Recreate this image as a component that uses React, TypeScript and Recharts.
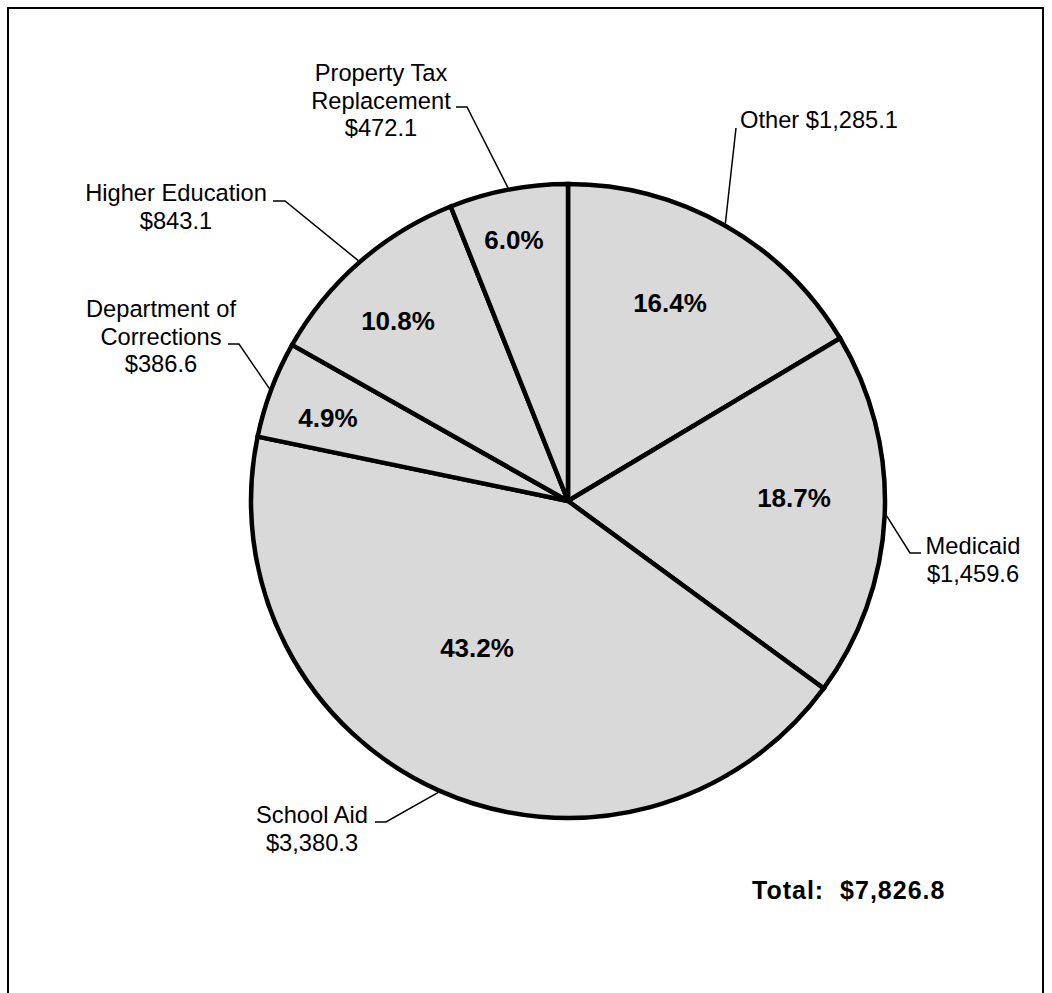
import { PieChart, Pie, Cell } from "recharts";

const CATEGORIES = [
  "Other",
  "Medicaid",
  "School Aid",
  "Department of\nCorrections",
  "Higher Education",
  "Property Tax\nReplacement",
];
const VALUES = [1285.1, 1459.6, 3380.3, 386.6, 843.1, 472.1];
const PERCENT_LABELS = ["16.4%", "18.7%", "43.2%", "4.9%", "10.8%", "6.0%"];

// callout placement: text anchor, leader elbow + tail, percent offset from pie centre
const LAYOUT = [
  { tx: 740, ty: 128, anchor: "start", elbow: [736, 128], tail: null, pct: [102, -198], inline: true },
  { tx: 973, ty: 554, anchor: "middle", elbow: [910, 553], tail: [921, 553], pct: [226, -3] },
  { tx: 312, ty: 823, anchor: "middle", elbow: [386, 822], tail: [375, 822], pct: [-91, 147] },
  { tx: 161, ty: 317, anchor: "middle", elbow: [239, 344], tail: [228, 344], pct: [-240, -83] },
  { tx: 176, ty: 201, anchor: "middle", elbow: [285, 201], tail: [273, 201], pct: [-170, -180] },
  { tx: 381, ty: 81, anchor: "middle", elbow: [467, 107], tail: [456, 107], pct: [-54, -261] },
];

const W = 1052;
const H = 993;
const FONT = "'Liberation Sans', Arial, Helvetica, sans-serif";
const LINE_H = 27.5;

const money = (v: number) =>
  "$" + v.toLocaleString("en-US", { minimumFractionDigits: 1, maximumFractionDigits: 1 });

const data = CATEGORIES.map((name, i) => ({ name, value: VALUES[i], pct: PERCENT_LABELS[i] }));
const total = VALUES.reduce((a, b) => a + b, 0);

const RADIAN = Math.PI / 180;

function renderLabel(props: any) {
  const { cx, cy, midAngle, outerRadius, index } = props;
  const lay = LAYOUT[index];
  const d = data[index];
  const ex = cx + (outerRadius + 2) * Math.cos(-midAngle * RADIAN);
  const ey = cy + (outerRadius + 2) * Math.sin(-midAngle * RADIAN);
  const pts = [[ex, ey], lay.elbow];
  if (lay.tail) pts.push(lay.tail);
  const lines = lay.inline
    ? [d.name + " " + money(d.value)]
    : [...d.name.split("\n"), money(d.value)];
  return (
    <g>
      <polyline
        points={pts.map((p) => p.join(",")).join(" ")}
        fill="none"
        stroke="#000"
        strokeWidth={1.5}
      />
      <text
        x={lay.tx}
        y={lay.ty}
        textAnchor={lay.anchor}
        fontFamily={FONT}
        fontSize={23.7}
        fill="#000"
      >
        {lines.map((l, i) => (
          <tspan key={i} x={lay.tx} dy={i === 0 ? 0 : LINE_H}>
            {l}
          </tspan>
        ))}
      </text>
      <text
        x={cx + lay.pct[0]}
        y={cy + lay.pct[1]}
        dy="0.35em"
        textAnchor="middle"
        fontFamily={FONT}
        fontSize={26}
        fontWeight="bold"
        fill="#000"
      >
        {d.pct}
      </text>
    </g>
  );
}

export default function App() {
  return (
    <div style={{ position: "fixed", left: 0, top: 0, width: W, height: H, overflow: "hidden", background: "#fff" }}>
      <PieChart width={W} height={H} margin={{ top: 0, right: 0, bottom: 0, left: 0 }}>
        <Pie
          data={data}
          dataKey="value"
          nameKey="name"
          cx={568}
          cy={501}
          outerRadius={317}
          startAngle={90}
          endAngle={-270}
          stroke="#000"
          strokeWidth={4.5}
          label={renderLabel}
          labelLine={false}
          isAnimationActive={false}
        >
          {data.map((d) => (
            <Cell key={d.name} fill="#d9d9d9" />
          ))}
        </Pie>
      </PieChart>
      <svg width={W} height={H} style={{ position: "absolute", left: 0, top: 0, pointerEvents: "none" }}>
        <rect x={8} y={8} width={1035} height={1010} fill="none" stroke="#000" strokeWidth={2} />
        <text
          x={752}
          y={899}
          fontFamily={FONT}
          fontSize={25}
          fontWeight="bold"
          letterSpacing={1}
          fill="#000"
          style={{ whiteSpace: "pre" }}
        >
          {"Total:  " + money(total)}
        </text>
      </svg>
    </div>
  );
}
